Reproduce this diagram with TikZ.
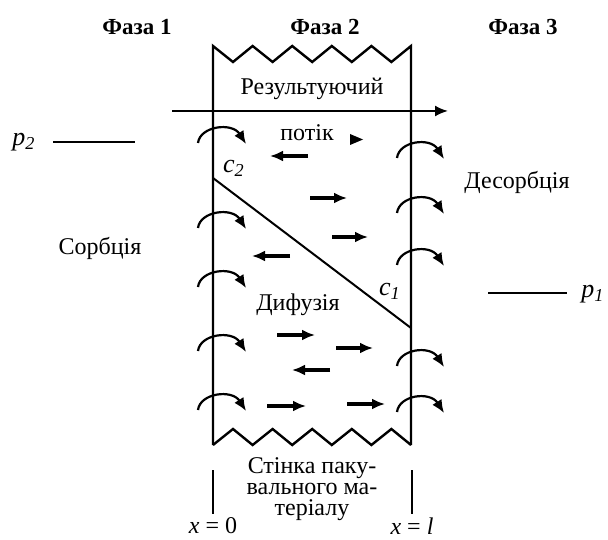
\documentclass[tikz,border=0pt]{standalone}
\usepackage{fontspec}
\setmainfont{Liberation Serif}
\usetikzlibrary{arrows.meta}

\tikzset{
  wall/.style={line width=1.2pt, line join=miter},
  thin/.style={line width=1pt},
  flow/.style={line width=1pt, -{Latex[length=6.5pt,width=5.5pt]}},
  diff/.style={line width=1.6pt, -{Latex[length=6.5pt,width=5.5pt]}},
  curl/.style={line width=1.1pt, -{Latex[length=6.5pt,width=5.5pt]}},
  phase/.style={font=\fontsize{11.5}{13}\selectfont\bfseries},
  lbl/.style={font=\fontsize{12}{14}\selectfont},
  sym/.style={font=\fontsize{13}{15}\selectfont\itshape},
}

\begin{document}
\begin{tikzpicture}[x=0.5pt,y=-0.5pt]
		\useasboundingbox (0,0) rectangle (608,539);
		% headings
		\node[phase] (ph1) at (137,27) {Фаза 1};
		\node[phase] (ph2) at (325,27) {Фаза 2};
		\node[phase] (ph3) at (523,27) {Фаза 3};
		%
		\coordinate (tl) at (213,46);
		\coordinate (tr) at (411,46);
		\coordinate (bl) at (213,445);
		\coordinate (br) at (411,445);
		% walls and torn edges
		\draw[wall] (bl) -- (tl) \foreach \i in {1,...,5} {-- ++(20,16) -- ++(19.6,-16)} -- (br);
		\draw[wall] (bl) \foreach \i in {1,...,5} {-- ++(20,-16) -- ++(19.6,16)};
		%
		\node[lbl] (res) at (312,89) {Результуючий};
		\node[lbl] (pot) at (307,133) {потік};
		\coordinate (fs) at (172,111);
		\coordinate (fe) at (448,111);
		\draw[flow] (fs) -- (fe);
		% concentration profile
		\coordinate (cA) at (213,178);
		\coordinate (cB) at (411,328);
		\draw[thin] (cA) -- (cB);
		\node[sym] (c2) at (234,168) {c\textsubscript{2}};
		\node[sym] (c1) at (390,291) {c\textsubscript{1}};
		% pressures
		\node[sym] (p2) at (24,142) {p\textsubscript{2}};
		\coordinate (p2s) at (53,142);
		\coordinate (p2e) at (135,142);
		\draw[thin] (p2s) -- (p2e);
		\node[sym] (p1) at (593,294) {p\textsubscript{1}};
		\coordinate (p1s) at (488,293);
		\coordinate (p1e) at (567,293);
		\draw[thin] (p1s) -- (p1e);
		% sorption / desorption
		\node[lbl] (sorb) at (100,248) {Сорбція};
		\node[lbl] (desorb) at (517,182) {Десорбція};
		\foreach \t in {128,213,272,336,395}
			\draw[curl] (198,\t+15) .. controls (200,\t-2) and (232,\t-6) .. (246,\t+16);
		\foreach \t in {143,198,250,351,397}
			\draw[curl] (397,\t+15) .. controls (399,\t-2) and (430,\t-6) .. (444,\t+16);
		% diffusion
		\node[lbl] (dif) at (298,305) {Дифузія};
		\fill (350,134) -- (363,139.5) -- (350,145) -- cycle;
		\foreach \a/\b/\y in {308/270/156, 310/347/198, 332/368/237, 290/252/256,
			277/315/335, 336/373/348, 330/292/370, 267/306/406, 347/385/404}
			\draw[diff] (\a,\y) -- (\b,\y);
		% wall of the packaging material
		\node[lbl, align=center, font=\fontsize{12}{10.5}\selectfont] (note) at (312,489)
			{Стінка паку-\\вального ма-\\теріалу};
		\coordinate (m0a) at (213,470);
		\coordinate (m0b) at (213,514);
		\coordinate (mla) at (412,470);
		\coordinate (mlb) at (412,514);
		\draw[thin] (m0a) -- (m0b);
		\draw[thin] (mla) -- (mlb);
		\node[lbl] (x0) at (213,526) {\textit{x} = 0};
		\node[lbl] (xl) at (412,526) {\textit{x} = \textit{l}};
	\end{tikzpicture}
\end{document}
